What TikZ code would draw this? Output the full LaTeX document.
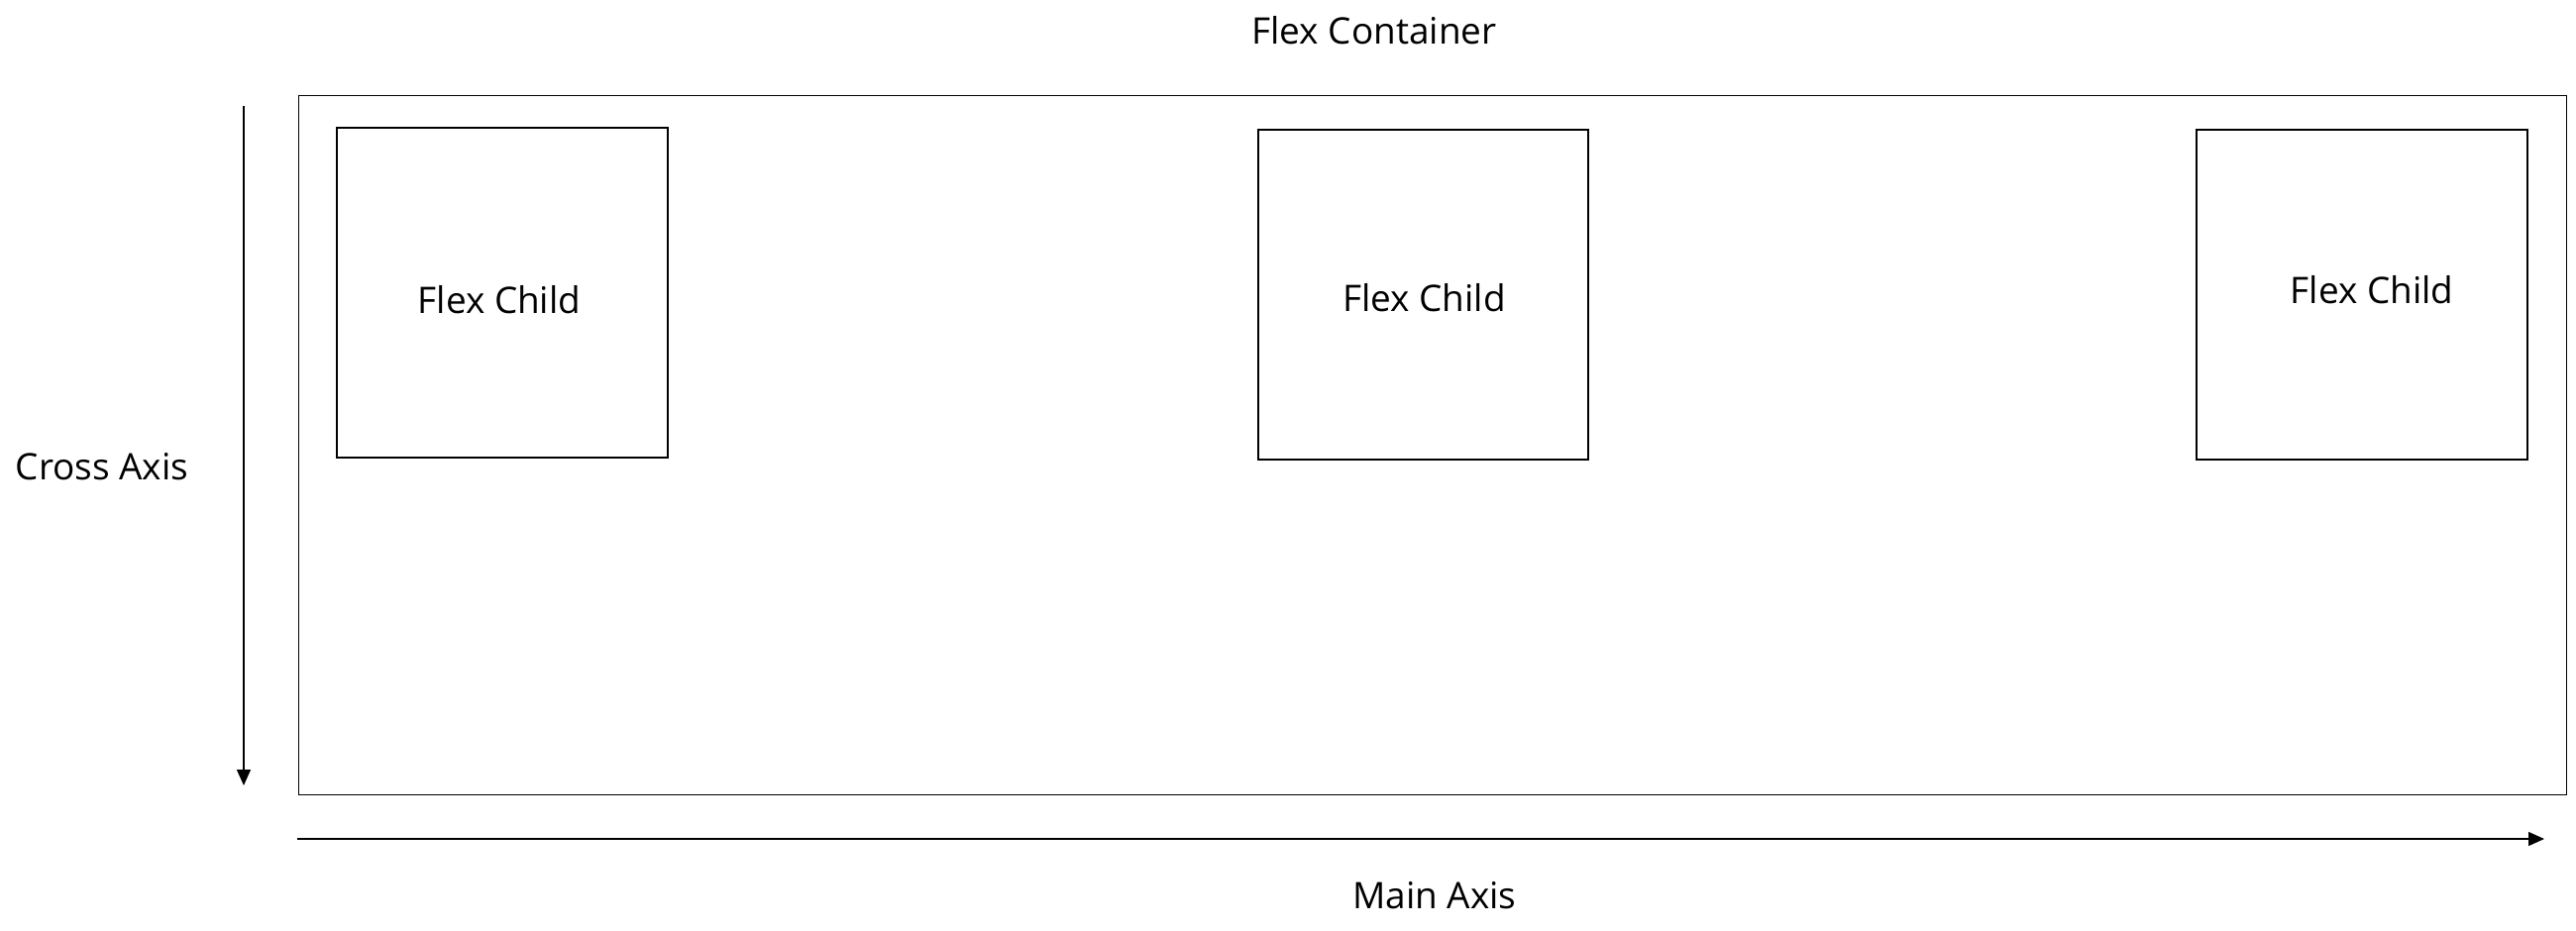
\documentclass[tikz,border=0pt]{standalone}
\usepackage{fontspec}
\setmainfont{Open Sans}
\usepackage{tikz}
\usetikzlibrary{arrows.meta,positioning}
\tikzset{% 
  flex box/.style={%
    draw,
    line width=0.4pt,
    inner sep=0pt
  }
}
\tikzset{% 
  axis arrow/.style={%
    line width=0.4pt,
    -{Triangle[length=0.16cm,width=0.14cm]}
  }
}
\tikzset{% 
  axis label/.style={%
    inner sep=0pt,
    font=\fontsize{10.5}{12}\selectfont
  }
}

\begin{document}
\begin{tikzpicture}[x=0.01cm,y=-0.01cm]
  \useasboundingbox (0,0) rectangle (2600,939);
  \node [flex box, minimum width=22.88cm, minimum height=7.06cm] (container) at (1446, 449.5) {};
  \node [flex box, minimum width=3.34cm, minimum height=3.33cm] (child1) at (507, 295.5) {};
  \node [flex box, minimum width=3.33cm, minimum height=3.33cm] (child2) at (1436.5, 297.5) {};
  \node [flex box, minimum width=3.34cm, minimum height=3.33cm] (child3) at (2384, 297.5) {};
  \node [axis label] (child1 text) at ([shift={(-3,7)}]child1.center) {Flex Child};
  \node [axis label] (child2 text) at ([shift={(1,3)}]child2.center) {Flex Child};
  \node [axis label] (child3 text) at ([shift={(10,-5)}]child3.center) {Flex Child};
  \node [axis label] (title) at (1387, 31) {Flex Container};
  \node [axis label] (cross) at (103, 471) {Cross Axis};
  \node [axis label] (main) at (1448, 904) {Main Axis};
  \coordinate (cross start) at (246, 107);
  \coordinate (cross end) at (246, 793);
  \coordinate (main start) at (300, 847);
  \coordinate (main end) at (2568, 847);
  \draw [axis arrow] (cross start) -- (cross end);
  \draw [axis arrow] (main start) -- (main end);
\end{tikzpicture}
\end{document}
